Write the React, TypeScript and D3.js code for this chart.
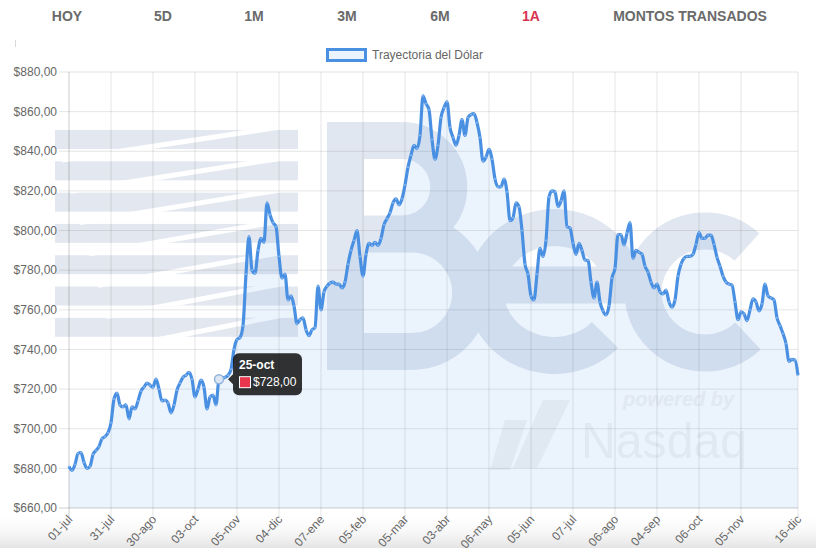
import React from 'react';
import * as d3 from 'd3';

const dolarValues: number[] = [
  681, 679, 682, 687.5, 688, 683, 680, 681, 687, 689,
  691, 695, 696, 698, 703, 715, 718, 712, 711, 712,
  705, 711, 710, 714, 719, 721, 723, 722, 721, 725,
  720, 714, 714.5, 713, 708, 712, 719.5, 723, 726, 727,
  728.5, 725, 716, 720, 724.5, 721, 710, 716, 717, 712,
  725, 725.5, 726, 727, 730, 740, 745, 746, 752, 778,
  797, 780, 778.5, 790, 796, 794, 814, 808, 804, 802,
  787, 776, 778, 765, 767, 762, 753, 755, 756, 750,
  747, 750, 751, 772, 760, 769, 772, 773.5, 774, 773,
  773, 771, 774, 783, 790, 795, 800, 787, 777, 788,
  793.5, 792.5, 794, 792.5, 796, 803, 806, 809, 814, 816,
  813, 816, 823, 832, 838, 843, 841.5, 848, 868, 864,
  861, 846, 836, 843, 857, 862, 865, 852, 847, 843,
  848, 856, 848, 857, 858.5, 859, 854.5, 847, 835, 837,
  841, 836, 826, 822, 822, 826, 819.5, 805, 806.5, 814,
  812, 800, 783, 778, 767, 765, 778, 791, 787, 795,
  817, 820, 819.5, 812, 815, 820, 802, 801.3, 793.7, 788,
  793.5, 790, 785, 785, 774, 766, 774, 764, 759.5, 757.4,
  762, 776, 781, 798, 798, 792.7, 798.7, 804, 786, 790,
  789, 788, 782, 779, 774, 771, 773, 769, 768, 770,
  764, 761.4, 765, 777, 783, 786, 787, 787, 788, 793,
  799, 796, 796, 797.7, 797.7, 793, 786.5, 782, 777, 774,
  773, 772.5, 764, 755, 759, 758, 754.5, 760, 765.5, 764,
  759.5, 763, 773, 767, 766, 765, 756, 752, 748, 743,
  734, 735, 734.7, 727,
];

const xTickLabels: string[] = [
  '01-jul', '31-jul', '30-ago', '03-oct', '05-nov', '04-dic', '07-ene', '05-feb', '05-mar',
  '03-abr', '06-may', '05-jun', '07-jul', '06-ago', '04-sep', '06-oct', '05-nov', '16-dic',
];
const yTickValues: number[] = [660, 680, 700, 720, 740, 760, 780, 800, 820, 840, 860, 880];
const navItems: string[] = ['HOY', '5D', '1M', '3M', '6M', '1A', 'MONTOS TRANSADOS'];
const activeNav = '1A';
const legendLabel = 'Trayectoria del Dólar';
const tooltipTitle = '25-oct';
const tooltipValue = '$728,00';
const tooltipIndex = 50;
const tickSkip = 14;

const W = 816;
const H = 548;
const FONT = "'Liberation Sans', Arial, Helvetica, sans-serif";
const LINE = '#4a90e2';
const FILL = 'rgba(74,144,226,0.11)';
const GRID = 'rgba(0,0,0,0.1)';
const WM = '#e1e7f0';
const WM_FLAG = '#e3e8f0';
const WM_NASDAQ = '#f3f3f4';

const locale = d3.formatLocale({ decimal: ',', thousands: '.', grouping: [3], currency: ['$', ''] });
const fmtMoney = locale.format('$,.2f');

export default function App() {
  const left = 69;
  const right = 798;
  const top = 72;
  const bottom = 508;
  const n = dolarValues.length;
  const x = d3.scaleLinear().domain([0, n - 1]).range([left, right]);
  const y = d3.scaleLinear().domain([660, 880]).range([bottom, top]);

  const tickIdx = xTickLabels.map((_, k) => (k === xTickLabels.length - 1 ? n - 1 : k * tickSkip));

  const line = d3
    .line<number>()
    .x((_, i) => x(i))
    .y((d) => y(d))
    .curve(d3.curveMonotoneX);
  const area = d3
    .area<number>()
    .x((_, i) => x(i))
    .y0(y(660))
    .y1((d) => y(d))
    .curve(d3.curveMonotoneX);

  const navX = [67, 163, 254, 347, 440, 531, 690];

  const bands = d3.range(7).map((k) => 130 + k * 31.3);

  const hx = x(tooltipIndex);
  const hy = y(dolarValues[tooltipIndex]);
  const tipX = hx + 14;
  const tipY = hy - 26;

  return (
    <div style={{ position: 'absolute', left: 0, top: 0 }}>
      <svg width={W} height={H} viewBox={`0 0 ${W} ${H}`} style={{ display: 'block', fontFamily: FONT }}>
        <defs>
          <linearGradient id="shadow" x1="0" y1="0" x2="0" y2="1">
            <stop offset="0" stopColor="#ffffff" stopOpacity="0" />
            <stop offset="1" stopColor="#e4e4e4" stopOpacity="1" />
          </linearGradient>
          <clipPath id="flagClip">
            <rect x={55} y={125} width={243} height={215} />
          </clipPath>
        </defs>
        <rect x={0} y={0} width={W} height={H} fill="#ffffff" />
        <rect x={0} y={512} width={W} height={36} fill="url(#shadow)" />

        {navItems.map((t, i) => (
          <text
            key={t}
            x={navX[i]}
            y={21}
            textAnchor="middle"
            fontSize={14}
            fontWeight="bold"
            fill={t === activeNav ? '#d7334f' : '#6a6a6a'}
          >
            {t}
          </text>
        ))}
        <line x1={15.5} y1={40} x2={15.5} y2={47} stroke="#d8d8d8" strokeWidth={1} />

        {/* watermark */}
        <g clipPath="url(#flagClip)">
          {bands.map((b, k) => (
            <rect key={k} x={55} y={b} width={243} height={19} fill={WM_FLAG} />
          ))}
          {bands.map((b, k) => (
            <line
              key={'w' + k}
              x1={62 + k * 9}
              y1={b + 30}
              x2={300}
              y2={b - 6}
              stroke="#ffffff"
              strokeWidth={5}
            />
          ))}
        </g>
        <g fill="none" stroke={WM} strokeWidth={37}>
          <line x1={345.5} y1={122} x2={345.5} y2={370} />
          <path d="M345.5,140.5 H402 A46.75,46.75 0 0 1 402,234 H345.5 M402,234 H412 A58.75,58.75 0 0 1 412,351.5 H345.5" />
          <path d="M490,285 H623 A69,64 0 1 0 605,335" />
          <path d="M747,247 A62,61 0 1 0 748,336" />
        </g>
        <text x={623} y={406} fontSize={20} fontStyle="italic" fontWeight="bold" fill={WM_NASDAQ}>
          powered by
        </text>
        <text x={581} y={458} fontSize={50} textLength={166} lengthAdjust="spacingAndGlyphs" fill={WM_NASDAQ}>
          Nasdaq
        </text>
        <g fill={WM_NASDAQ}>
          <polygon points="490,470 510,470 527,420 505,420" />
          <polygon points="543,400 570,400 537,468 513,468" />
        </g>

        {/* grid */}
        {yTickValues.map((v) => (
          <line key={v} x1={left - 10} x2={right} y1={y(v)} y2={y(v)} stroke={v === 660 ? 'rgba(0,0,0,0.2)' : GRID} />
        ))}
        {tickIdx.map((ti, k) => (
          <line key={k} x1={x(ti)} x2={x(ti)} y1={top} y2={bottom + 10} stroke={k === 0 ? 'rgba(0,0,0,0.2)' : GRID} />
        ))}

        {yTickValues.map((v) => (
          <text key={v} x={57} y={y(v)} dy="0.35em" textAnchor="end" fontSize={12} fill="#666">
            {fmtMoney(v)}
          </text>
        ))}
        {tickIdx.map((ti, k) => (
          <text
            key={k}
            transform={`translate(${x(ti) + 1},${bottom + 9}) rotate(-47)`}
            textAnchor="end"
            dy="0.35em"
            fontSize={12}
            fill="#666"
          >
            {xTickLabels[k]}
          </text>
        ))}

        {/* legend */}
        <rect x={327.5} y={49.5} width={38} height={11} fill={FILL} stroke={LINE} strokeWidth={3} />
        <text x={372} y={55} dy="0.35em" fontSize={12} fill="#666">
          {legendLabel}
        </text>

        {/* data */}
        <path d={area(dolarValues) || ''} fill={FILL} />
        <path d={line(dolarValues) || ''} fill="none" stroke={LINE} strokeWidth={3.2} strokeLinejoin="round" />
        {dolarValues.map((v, i) => (
          <circle key={i} cx={x(i)} cy={y(v)} r={0.9} fill="#8dbaf0" stroke="none" />
        ))}
        <circle cx={hx} cy={hy} r={4.5} fill="#dbe6f2" stroke="#8fb3dc" strokeWidth={1.5} />

        {/* tooltip */}
        <g>
          <path d={`M${tipX - 5},${hy} L${tipX},${hy - 5} L${tipX},${hy + 5} Z`} fill="rgba(0,0,0,0.8)" />
          <rect x={tipX} y={tipY} width={69} height={42} rx={6} fill="rgba(0,0,0,0.8)" />
          <text x={tipX + 6} y={tipY + 6} dy="0.8em" fontSize={12} fontWeight="bold" fill="#fff">
            {tooltipTitle}
          </text>
          <rect x={tipX + 6} y={tipY + 23} width={12} height={12} fill="#ffffff" />
          <rect x={tipX + 7} y={tipY + 24} width={10} height={10} fill="#e8374f" />
          <text x={tipX + 20} y={tipY + 23} dy="0.82em" fontSize={12} fill="#fff">
            {tooltipValue}
          </text>
        </g>
      </svg>
    </div>
  );
}
